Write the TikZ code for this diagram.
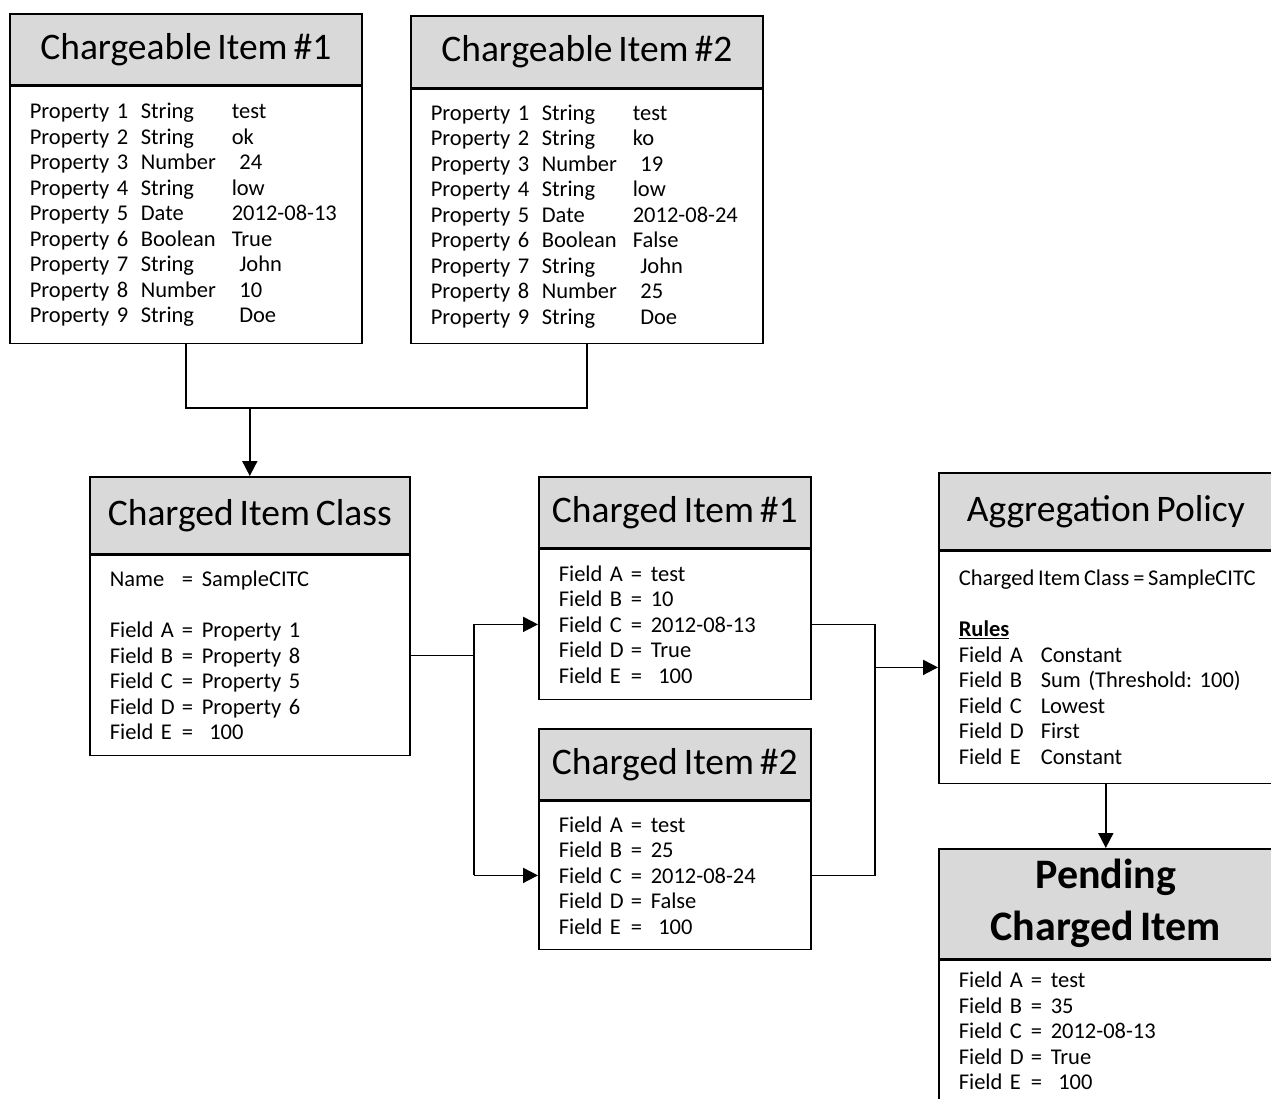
\documentclass[tikz,border=0pt]{standalone}
\usepackage{fontspec}
\setmainfont{Carlito}[WordSpace=0.7]
\usetikzlibrary{arrows.meta}
\definecolor{headgray}{HTML}{D9D9D9}
\frenchspacing
\newcommand{\prop}[3]{\makebox[111pt][l]{#1}\makebox[91pt][l]{#2}#3}
\newcommand{\fld}[2]{\makebox[72pt][l]{#1}\makebox[20pt][l]{=}#2}
\newcommand{\rul}[2]{\makebox[82pt][l]{#1}#2}
\tikzset{
	head/.style={draw, line width=1.6pt, fill=headgray, inner sep=0pt, anchor=north west, font=\fontsize{37.5}{40}\selectfont},
	body/.style={draw, line width=1.6pt, fill=white, anchor=north, inner xsep=20pt, inner ysep=0pt, align=left, font=\fontsize{22.5}{25.5}\selectfont},
	link/.style={line width=1.8pt},
	arr/.style={line width=1.8pt, -{Triangle[length=15pt,width=15pt]}}
}

\begin{document}
\begin{tikzpicture}[x=1pt,y=-1pt]
			%%%%% START %%%%%
			\def\xone{9}
			\def\yone{13}
			\def\xtwo{410}
			\def\ytwo{15}
			\def\xcls{89}
			\def\ycls{476}
			\def\xitem{538}
			\def\yitemone{476}
			\def\yitemtwo{728}
			\def\xpol{938}
			\def\ypol{472}
			\def\ypend{848}

			\useasboundingbox (0,0) rectangle (1271,1098);

			% chargeable items
			\node[head, minimum width=352pt, minimum height=71pt] (ci1h) at (\xone,\yone) {Chargeable Item \#1};
			\node[body, text width=312pt, minimum height=257pt] (ci1) at (ci1h.south) {%
				\prop{Property 1}{String}{test}\\
				\prop{Property 2}{String}{ok}\\
				\prop{Property 3}{Number}{\ 24}\\
				\prop{Property 4}{String}{low}\\
				\prop{Property 5}{Date}{2012-08-13}\\
				\prop{Property 6}{Boolean}{True}\\
				\prop{Property 7}{String}{\ John}\\
				\prop{Property 8}{Number}{\ 10}\\
				\prop{Property 9}{String}{\ Doe}};

			\node[head, minimum width=352pt, minimum height=72pt] (ci2h) at (\xtwo,\ytwo) {Chargeable Item \#2};
			\node[body, text width=312pt, minimum height=254pt] (ci2) at (ci2h.south) {%
				\prop{Property 1}{String}{test}\\
				\prop{Property 2}{String}{ko}\\
				\prop{Property 3}{Number}{\ 19}\\
				\prop{Property 4}{String}{low}\\
				\prop{Property 5}{Date}{2012-08-24}\\
				\prop{Property 6}{Boolean}{False}\\
				\prop{Property 7}{String}{\ John}\\
				\prop{Property 8}{Number}{\ 25}\\
				\prop{Property 9}{String}{\ Doe}};

			% class
			\node[head, minimum width=320pt, minimum height=77pt] (clsh) at (\xcls,\ycls) {Charged Item Class};
			\node[body, text width=280pt, minimum height=200pt] (cls) at (clsh.south) {%
				\fld{Name}{SampleCITC}\\[25.5pt]
				\fld{Field A}{Property 1}\\
				\fld{Field B}{Property 8}\\
				\fld{Field C}{Property 5}\\
				\fld{Field D}{Property 6}\\
				\fld{Field E}{\ 100}};

			% charged items
			\node[head, minimum width=272pt, minimum height=71pt] (it1h) at (\xitem,\yitemone) {Charged Item \#1};
			\node[body, text width=232pt, minimum height=150pt] (it1) at (it1h.south) {%
				\fld{Field A}{test}\\
				\fld{Field B}{10}\\
				\fld{Field C}{2012-08-13}\\
				\fld{Field D}{True}\\
				\fld{Field E}{\ 100}};

			\node[head, minimum width=272pt, minimum height=71pt] (it2h) at (\xitem,\yitemtwo) {Charged Item \#2};
			\node[body, text width=232pt, minimum height=148pt] (it2) at (it2h.south) {%
				\fld{Field A}{test}\\
				\fld{Field B}{25}\\
				\fld{Field C}{2012-08-24}\\
				\fld{Field D}{False}\\
				\fld{Field E}{\ 100}};

			% policy
			\node[head, minimum width=334pt, minimum height=77pt] (polh) at (\xpol,\ypol) {Aggregation Policy};
			\node[body, text width=294pt, minimum height=232pt] (pol) at (polh.south) {%
				\mbox{Charged\,Item\,Class\,=\,SampleCITC}\\[25.5pt]
				\underline{\textbf{Rules}}\\
				\rul{Field A}{Constant}\\
				\rul{Field B}{Sum (Threshold: 100)}\\
				\rul{Field C}{Lowest}\\
				\rul{Field D}{First}\\
				\rul{Field E}{Constant}};

			% pending
			\node[head, minimum width=334pt, minimum height=110pt, align=center, font=\bfseries\fontsize{42}{52}\selectfont] (pendh) at (\xpol,\ypend) {Pending\\Charged Item};
			\node[body, text width=294pt, minimum height=141pt] (pend) at (pendh.south) {%
				\fld{Field A}{test}\\
				\fld{Field B}{35}\\
				\fld{Field C}{2012-08-13}\\
				\fld{Field D}{True}\\
				\fld{Field E}{\ 100}};

			% connectors
			\coordinate (join) at (249,408);
			\coordinate (split) at (474,654);
			\coordinate (merge) at (875,664);

			\draw[link] (ci1.south) -- (ci1.south |- join) -- (ci2.south |- join) -- (ci2.south);
			\draw[arr] (clsh.north |- join) -- (clsh.north);
			\draw[link] (cls.east) -- (cls.east -| split);
			\draw[arr] (it1.west -| split) -- (it1.west);
			\draw[link] (it1.west -| split) -- (it2.west -| split);
			\draw[arr] (it2.west -| split) -- (it2.west);
			\draw[link] (it1.east) -- (it1.east -| merge) -- (it2.east -| merge) -- (it2.east);
			\draw[arr] (pol.west -| merge) -- (pol.west);
			\draw[arr] (pol.south) -- (pendh.north);
			%%%%% END %%%%%
		\end{tikzpicture}
\end{document}
